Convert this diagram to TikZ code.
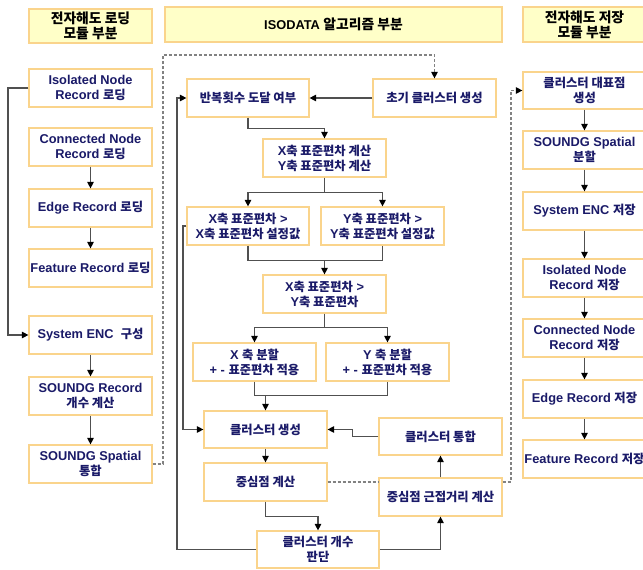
\documentclass[tikz,border=0pt]{standalone}
\usepackage{fontspec}
\setmainfont{Liberation Sans}
\newfontfamily\krfont{Noto Sans CJK KR}
\usetikzlibrary{arrows.meta}
\definecolor{txt}{RGB}{26,26,104}
\definecolor{bord}{RGB}{250,212,140}
\definecolor{hfill}{RGB}{255,255,200}
\definecolor{lncol}{RGB}{80,80,80}
\definecolor{dshcol}{RGB}{130,130,130}
\newcommand\K[1]{{\krfont\bfseries\fontsize{12.3}{15}\selectfont #1}}
\newcommand\KH[1]{{\krfont\fontsize{13.8}{15}\selectfont #1}}
\begin{document}
\begin{tikzpicture}[x=1pt,y=-1pt,
  box/.style={draw=bord, line width=1.2pt, fill=white, minimum width=123pt, minimum height=38pt, inner sep=0pt, align=center, text=txt, font=\bfseries\fontsize{12.8}{15}\selectfont},
  hbox/.style={box, fill=hfill, text=black},
  arr/.style={draw=lncol, line width=1.2pt, -{Triangle[length=6.5pt,width=6.5pt,color=black]}},
  conn/.style={draw=lncol, line width=1.2pt},
  dsh/.style={draw=dshcol, line width=1.1pt, dash pattern=on 3pt off 2pt},
  dsharr/.style={dsh, -{Triangle[length=6.5pt,width=6.5pt,color=black]}}]
\useasboundingbox (0,0) rectangle (643,570);
% headers
\node[hbox, minimum height=34pt] (hL) at (90.5,26) {\KH{전자해도 로딩}\\\KH{모듈 부분}};
\node[hbox, minimum width=337pt, minimum height=35pt] (hM) at (333.5,24.5) {ISODATA \KH{알고리즘 부분}};
\node[hbox, minimum height=35pt] (hR) at (584.5,24.5) {\KH{전자해도 저장}\\\KH{모듈 부분}};
% left column
\node[box] (iso) at (90.5,88) {Isolated Node\\Record \K{로딩}};
\node[box] (con) at (90.5,147) {Connected Node\\Record \K{로딩}};
\node[box] (edge) at (90.5,208) {Edge Record \K{로딩}};
\node[box] (feat) at (90.5,268) {Feature Record \K{로딩}};
\node[box] (sys) at (90.5,335) {System ENC\ \ \K{구성}};
\node[box] (scnt) at (90.5,396) {SOUNDG Record\\\K{개수 계산}};
\node[box] (sspa) at (90.5,464) {SOUNDG Spatial\\\K{통합}};
% middle
\node[box, minimum width=122pt] (rep) at (248,98) {\K{반복횟수 도달 여부}};
\node[box] (init) at (434.5,98) {\K{초기 클러스터 생성}};
\node[box] (std) at (324.5,158) {X\K{축 표준편차 계산}\\Y\K{축 표준편차 계산}};
\node[box, minimum width=122pt] (xgt) at (248,226) {X\K{축 표준편차} >\\X\K{축 표준편차 설정값}};
\node[box] (ygt) at (382.5,226) {Y\K{축 표준편차} >\\Y\K{축 표준편차 설정값}};
\node[box] (xy) at (324.5,294) {X\K{축 표준편차} >\\Y\K{축 표준편차}};
\node[box] (xsp) at (254.5,362) {X \K{축 분할}\\+ - \K{표준편차 적용}};
\node[box] (ysp) at (387.5,362) {Y \K{축 분할}\\+ - \K{표준편차 적용}};
\node[box, minimum height=37pt] (gen) at (265.5,429.5) {\K{클러스터 생성}};
\node[box] (cent) at (265.5,482) {\K{중심점 계산}};
\node[box, minimum width=122pt, minimum height=37pt] (judge) at (318,549.5) {\K{클러스터 개수}\\\K{판단}};
\node[box, minimum height=37pt] (merge) at (440.5,436.5) {\K{클러스터 통합}};
\node[box] (near) at (440.5,497) {\K{중심점 근접거리 계산}};
% right column
\node[box, minimum height=37pt] (rp) at (584.5,90.5) {\K{클러스터 대표점}\\\K{생성}};
\node[box] (ssp) at (584.5,150) {SOUNDG Spatial\\\K{분할}};
\node[box] (senc) at (584.5,211) {System ENC \K{저장}};
\node[box] (iso2) at (584.5,278) {Isolated Node\\Record \K{저장}};
\node[box] (con2) at (584.5,338) {Connected Node\\Record \K{저장}};
\node[box] (edge2) at (584.5,399) {Edge Record \K{저장}};
\node[box] (feat2) at (584.5,459) {Feature Record \K{저장}};
% left connectors
\coordinate (lx) at (8,0);
\draw[arr] (iso.west) -- (iso.west -| lx) |- (sys.west);
\draw[arr] (con) -- (edge);
\draw[arr] (edge) -- (feat);
\draw[arr] (sys) -- (scnt);
\draw[arr] (scnt) -- (sspa);
\coordinate (dtop) at (163,55);
\draw[dsharr] (sspa.east) -| (dtop) -| (init.north);
% middle connectors
\draw[arr] (init) -- (rep);
\draw[arr] (rep.south) -- ++(0,11) -| (std.north);
\draw[arr] (std.south) -- ++(0,15) coordinate (s1) -| (xgt.north);
\draw[arr] (s1) -| (ygt.north);
\draw[conn] (xgt.south) -- ++(0,15) coordinate (m1) -| (ygt.south);
\draw[arr] (m1 -| xy.north) -- (xy.north);
\draw[arr] (xy.south) -- ++(0,14) coordinate (s2) -| (xsp.north);
\draw[arr] (s2) -| (ysp.north);
\draw[conn] (xsp.south) -- ++(0,14) coordinate (m2) -| (ysp.south);
\draw[arr] (m2 -| gen.north) -- (gen.north);
\draw[arr] (gen) -- (cent);
\draw[arr] (cent.south) -- ++(0,15) -| (judge.north);
\draw[arr] (judge.east) -| (near.south);
\draw[arr] (near) -- (merge);
\draw[arr] (merge.west) -- ++(-26,0) |- (gen.east);
\coordinate (ox) at (177,0);
\draw[arr] (judge.west) -- (judge.west -| ox) |- (rep.west);
\coordinate (ix) at (183,0);
\draw[arr] (xgt.west) -- (xgt.west -| ix) |- (gen.west);
\draw[dsh] (cent.east) -- (cent.east -| near.west);
\coordinate (rx) at (511,0);
\draw[dsharr] (near.east |- cent.east) -- (cent.east -| rx) |- (rp.west);
% right connectors
\draw[arr] (rp) -- (ssp);
\draw[arr] (ssp) -- (senc);
\draw[arr] (senc) -- (iso2);
\draw[arr] (iso2) -- (con2);
\draw[arr] (con2) -- (edge2);
\draw[arr] (edge2) -- (feat2);
\end{tikzpicture}
\end{document}
